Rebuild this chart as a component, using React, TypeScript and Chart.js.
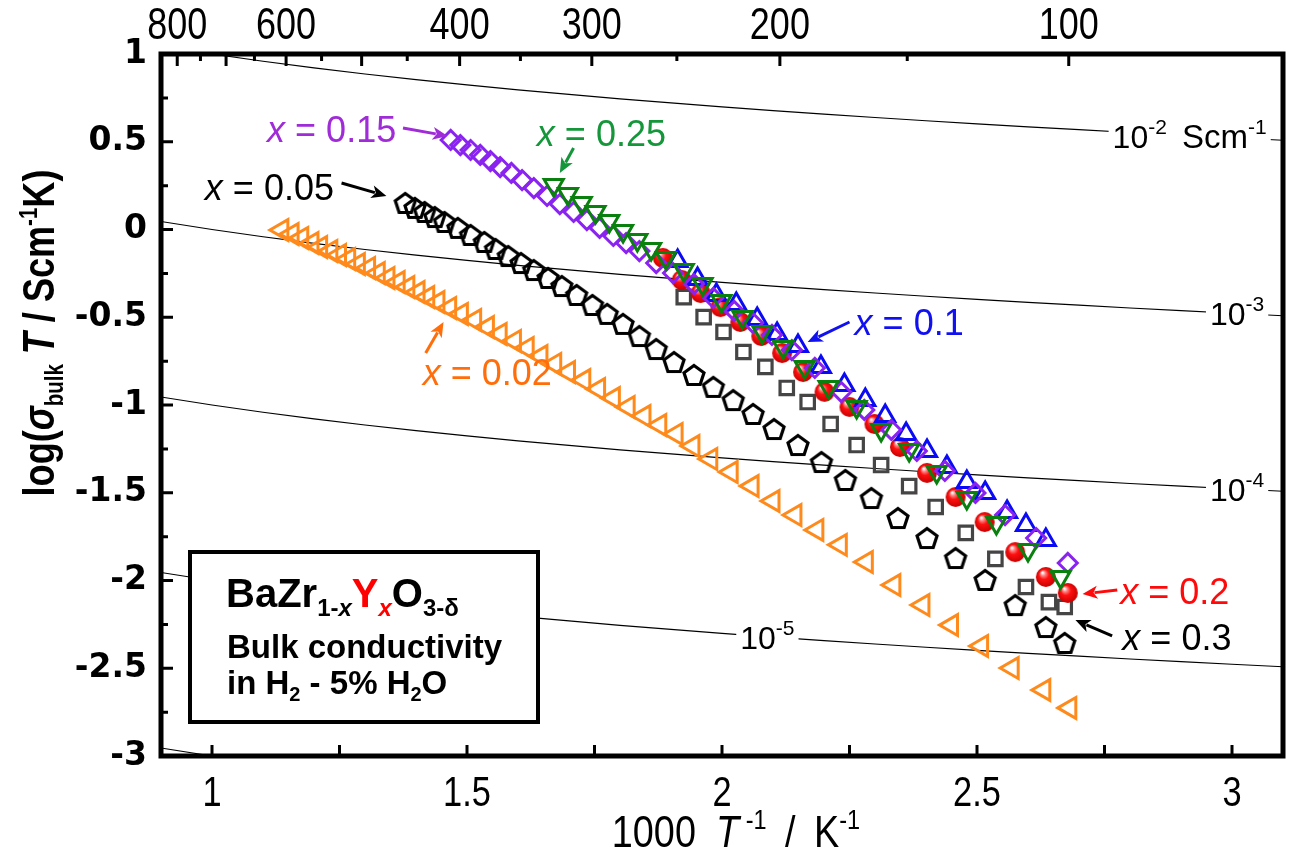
import React, { useEffect, useRef } from "react";
import { Chart, registerables } from "chart.js";

Chart.register(...registerables);

const W = 1298;
const H = 855;

// ---- axes ----
const X_MIN = 0.9;
const X_MAX = 3.1;
const Y_MIN = -3;
const Y_MAX = 1;
const X_TICKS = [1, 1.5, 2, 2.5, 3];
const X_MINOR = [1, 1.25, 1.5, 1.75, 2, 2.25, 2.5, 2.75, 3];
const Y_TICKS = [-3, -2.5, -2, -1.5, -1, -0.5, 0, 0.5, 1];
const Y_MINOR = [-2.75, -2.25, -1.75, -1.25, -0.75, -0.25, 0.25, 0.75];
const TOP_LABELS_C = [800, 600, 400, 300, 200, 100];
const TOP_MAJOR_C = [800, 700, 600, 500, 400, 300, 200, 100];
const TOP_MINOR_C = [750, 650, 550, 450, 350, 250, 150];

// ---- iso-conductivity lines (sigma = 10^exp S/cm) ----
const ISO_EXPONENTS = [-2, -3, -4, -5, -6];
const ISO_X = [0.9, 1.0, 1.1, 1.2, 1.3, 1.4, 1.5, 1.6, 1.7, 1.8, 1.9, 2.0, 2.1, 2.2, 2.3, 2.4, 2.5, 2.6, 2.7, 2.8, 2.9, 3.0, 3.1];

// ---- series: x = 0.02 (orange left triangles) ----
const X_002 = [1.137, 1.157, 1.176, 1.196, 1.213, 1.233, 1.250, 1.268, 1.287, 1.307, 1.326, 1.345, 1.365, 1.384, 1.404, 1.423, 1.443, 1.466, 1.489, 1.515, 1.540, 1.565, 1.593, 1.618, 1.645, 1.672, 1.699, 1.729, 1.758, 1.787, 1.816, 1.847, 1.878, 1.910, 1.943, 1.978, 2.018, 2.059, 2.100, 2.143, 2.186, 2.232, 2.283, 2.337, 2.394, 2.450, 2.509, 2.569, 2.631, 2.682];
const Y_002 = [-0.003, -0.026, -0.048, -0.077, -0.100, -0.123, -0.145, -0.168, -0.197, -0.219, -0.248, -0.276, -0.299, -0.328, -0.356, -0.385, -0.413, -0.447, -0.481, -0.516, -0.556, -0.595, -0.635, -0.675, -0.721, -0.766, -0.812, -0.858, -0.909, -0.960, -1.011, -1.063, -1.114, -1.165, -1.234, -1.308, -1.382, -1.462, -1.547, -1.627, -1.712, -1.797, -1.895, -2.026, -2.140, -2.254, -2.373, -2.499, -2.624, -2.726];

// ---- x = 0.05 (black pentagons) ----
const X_005 = [1.379, 1.398, 1.417, 1.437, 1.456, 1.482, 1.507, 1.534, 1.556, 1.581, 1.606, 1.631, 1.659, 1.686, 1.715, 1.746, 1.775, 1.806, 1.838, 1.871, 1.906, 1.945, 1.983, 2.022, 2.061, 2.102, 2.149, 2.195, 2.242, 2.293, 2.345, 2.402, 2.458, 2.516, 2.575, 2.635, 2.672];
const Y_005 = [0.151, 0.123, 0.100, 0.071, 0.043, 0.009, -0.031, -0.071, -0.111, -0.151, -0.191, -0.231, -0.276, -0.322, -0.373, -0.430, -0.481, -0.538, -0.607, -0.681, -0.755, -0.829, -0.897, -0.972, -1.051, -1.137, -1.228, -1.325, -1.427, -1.530, -1.644, -1.758, -1.872, -1.997, -2.140, -2.265, -2.356];

// ---- x = 0.1 (blue up triangles) ----
const X_010 = [1.913, 1.952, 1.989, 2.028, 2.069, 2.108, 2.149, 2.194, 2.240, 2.281, 2.320, 2.361, 2.402, 2.441, 2.480, 2.516, 2.559, 2.596, 2.635];
const Y_010 = [-0.179, -0.282, -0.373, -0.425, -0.510, -0.595, -0.664, -0.783, -0.886, -0.972, -1.063, -1.165, -1.262, -1.353, -1.439, -1.501, -1.610, -1.684, -1.769];

// ---- x = 0.15 (violet diamonds) ----
const X_015 = [1.468, 1.487, 1.507, 1.526, 1.546, 1.565, 1.587, 1.608, 1.631, 1.657, 1.682, 1.709, 1.735, 1.760, 1.787, 1.812, 1.838, 1.871, 1.904, 1.945, 1.983, 2.024, 2.061, 2.098, 2.137, 2.182, 2.234, 2.279, 2.332, 2.382, 2.437, 2.497, 2.555, 2.616, 2.678];
const Y_015 = [0.510, 0.481, 0.453, 0.425, 0.390, 0.356, 0.322, 0.282, 0.236, 0.191, 0.145, 0.100, 0.054, 0.009, -0.037, -0.077, -0.123, -0.191, -0.248, -0.311, -0.390, -0.464, -0.533, -0.601, -0.687, -0.789, -0.926, -1.028, -1.142, -1.262, -1.376, -1.501, -1.627, -1.758, -1.900];

// ---- x = 0.2 (red spheres) ----
const X_020 = [1.884, 1.921, 1.958, 1.997, 2.036, 2.077, 2.118, 2.159, 2.201, 2.250, 2.299, 2.349, 2.402, 2.458, 2.515, 2.575, 2.635, 2.678];
const Y_020 = [-0.162, -0.288, -0.362, -0.442, -0.527, -0.607, -0.704, -0.812, -0.925, -1.011, -1.108, -1.239, -1.387, -1.524, -1.667, -1.838, -1.980, -2.071];

// ---- x = 0.25 (green down triangles) ----
const X_025 = [1.670, 1.698, 1.725, 1.752, 1.779, 1.806, 1.834, 1.861, 1.890, 1.925, 1.962, 1.999, 2.040, 2.079, 2.120, 2.162, 2.209, 2.264, 2.312, 2.367, 2.421, 2.480, 2.538, 2.600, 2.664];
const Y_025 = [0.254, 0.202, 0.151, 0.100, 0.048, -0.009, -0.060, -0.111, -0.162, -0.231, -0.311, -0.407, -0.499, -0.584, -0.670, -0.783, -0.897, -1.011, -1.142, -1.256, -1.382, -1.530, -1.672, -1.826, -1.980];

// ---- x = 0.3 (grey squares) ----
const X_030 = [1.925, 1.964, 2.003, 2.042, 2.085, 2.127, 2.168, 2.213, 2.264, 2.312, 2.367, 2.419, 2.478, 2.536, 2.596, 2.641, 2.672];
const Y_030 = [-0.385, -0.499, -0.584, -0.698, -0.783, -0.903, -0.983, -1.108, -1.228, -1.342, -1.462, -1.581, -1.729, -1.877, -2.037, -2.123, -2.151];

const pts = (xs: number[], ys: number[]) => xs.map((x, i) => ({ x, y: ys[i] }));

const SANS = '"Liberation Sans", Arial, sans-serif';
const YTICK = '"DejaVu Sans", sans-serif';
const NARROW_SX = 0.8;

type Seg = { t: string; f: string; c?: string; dy?: number; gap?: number };

function segWidth(ctx: CanvasRenderingContext2D, segs: Seg[]) {
  let total = 0;
  for (const s of segs) {
    ctx.font = s.f;
    total += ctx.measureText(s.t).width + (s.gap || 0);
  }
  return total;
}

function drawRich(
  ctx: CanvasRenderingContext2D,
  segs: Seg[],
  x: number,
  y: number,
  align: "left" | "center" | "right" = "left",
  sx = 1
) {
  const total = segWidth(ctx, segs) * sx;
  const x0 = align === "center" ? x - total / 2 : align === "right" ? x - total : x;
  ctx.save();
  ctx.translate(x0, y);
  ctx.scale(sx, 1);
  ctx.textAlign = "left";
  ctx.textBaseline = "alphabetic";
  let cx = 0;
  for (const s of segs) {
    ctx.font = s.f;
    ctx.fillStyle = s.c || "#000";
    ctx.fillText(s.t, cx, s.dy || 0);
    cx += ctx.measureText(s.t).width + (s.gap || 0);
  }
  ctx.restore();
  return total;
}

function makePentagon(): HTMLCanvasElement {
  const c = document.createElement("canvas");
  c.width = 30;
  c.height = 30;
  const g = c.getContext("2d")!;
  const r = 10.5;
  g.beginPath();
  for (let i = 0; i < 5; i++) {
    const a = -Math.PI / 2 + (i * 2 * Math.PI) / 5;
    const px = 15 + r * Math.cos(a);
    const py = 16 + r * Math.sin(a);
    if (i === 0) g.moveTo(px, py);
    else g.lineTo(px, py);
  }
  g.closePath();
  g.lineWidth = 3.2;
  g.lineJoin = "miter";
  g.strokeStyle = "#000";
  g.stroke();
  return c;
}

function makeSphere(): HTMLCanvasElement {
  const c = document.createElement("canvas");
  c.width = 24;
  c.height = 24;
  const g = c.getContext("2d")!;
  const grad = g.createRadialGradient(8.5, 7.5, 0.5, 12, 12, 10.5);
  grad.addColorStop(0, "#ffffff");
  grad.addColorStop(0.2, "#ff8080");
  grad.addColorStop(0.45, "#ff1010");
  grad.addColorStop(1, "#c40000");
  g.beginPath();
  g.arc(12, 12, 10, 0, Math.PI * 2);
  g.fillStyle = grad;
  g.fill();
  return c;
}

// annotation label specs (data coordinates)
const SERIES_LABELS = [
  { text: "0.15", color: "#A02CD8", x: 1.108, y: 0.499, ax0: 1.3745, ay0: 0.578, ax1: 1.462, ay1: 0.533 },
  { text: "0.25", color: "#16963A", x: 1.637, y: 0.476, ax0: 1.709, ay0: 0.464, ax1: 1.682, ay1: 0.322 },
  { text: "0.05", color: "#000000", x: 0.986, y: 0.168, ax0: 1.254, ay0: 0.265, ax1: 1.342, ay1: 0.191 },
  { text: "0.02", color: "#FF6E0A", x: 1.413, y: -0.886, ax0: 1.419, ay0: -0.704, ax1: 1.454, ay1: -0.527 },
  { text: "0.1", color: "#1010F0", x: 2.26, y: -0.601, ax0: 2.25, ay0: -0.527, ax1: 2.168, ay1: -0.641 },
  { text: "0.2", color: "#FF0A0A", x: 2.781, y: -2.134, ax0: 2.775, ay0: -2.054, ax1: 2.707, ay1: -2.077 },
  { text: "0.3", color: "#000000", x: 2.785, y: -2.396, ax0: 2.765, ay0: -2.316, ax1: 2.693, ay1: -2.225 },
];

const ISO_LABELS = [
  { exp: -2, x: 2.917, unit: true },
  { exp: -3, x: 3.01, unit: false },
  { exp: -4, x: 3.01, unit: false },
  { exp: -5, x: 2.089, unit: false },
];

function arrow(ctx: CanvasRenderingContext2D, x0: number, y0: number, x1: number, y1: number, color: string) {
  const ang = Math.atan2(y1 - y0, x1 - x0);
  const hl = 15;
  const hw = 6.5;
  const bx = x1 - hl * Math.cos(ang);
  const by = y1 - hl * Math.sin(ang);
  ctx.strokeStyle = color;
  ctx.fillStyle = color;
  ctx.lineWidth = 3;
  ctx.beginPath();
  ctx.moveTo(x0, y0);
  ctx.lineTo(bx + 3 * Math.cos(ang), by + 3 * Math.sin(ang));
  ctx.stroke();
  ctx.beginPath();
  ctx.moveTo(x1, y1);
  ctx.lineTo(bx - hw * Math.sin(ang), by + hw * Math.cos(ang));
  ctx.lineTo(bx + 4 * Math.cos(ang), by + 4 * Math.sin(ang));
  ctx.lineTo(bx + hw * Math.sin(ang), by - hw * Math.cos(ang));
  ctx.closePath();
  ctx.fill();
}

const decor = {
  id: "decor",
  afterDatasetsDraw(chart: any) {
    const { ctx, chartArea: a, scales } = chart;
    const xs = scales.x;
    const ys = scales.y;
    const px = (v: number) => xs.getPixelForValue(v);
    const py = (v: number) => ys.getPixelForValue(v);
    ctx.save();

    // iso-line labels
    for (const L of ISO_LABELS) {
      const ly = py(L.exp + 3 - Math.log10(L.x));
      const lx = px(L.x);
      const segs: Seg[] = [
        { t: "10", f: `32px ${SANS}` },
        { t: "-" + String(-L.exp), f: `21px ${SANS}`, dy: -14 },
      ];
      if (L.unit) {
        segs.push({ t: " Scm", f: `33px ${SANS}`, gap: 0 });
        segs.push({ t: "-1", f: `21px ${SANS}`, dy: -14 });
        segs[1].gap = 6;
      }
      const w = segWidth(ctx, segs);
      ctx.fillStyle = "#fff";
      ctx.fillRect(lx - w / 2 - 4, ly - 20, w + 8, 34);
      drawRich(ctx, segs, lx, ly + 12, "center");
    }

    // series labels + arrows
    for (const L of SERIES_LABELS) {
      drawRich(
        ctx,
        [
          { t: "x", f: `italic 36px ${SANS}`, c: L.color },
          { t: " = " + L.text, f: `36px ${SANS}`, c: L.color },
        ],
        px(L.x),
        py(L.y)
      );
      arrow(ctx, px(L.ax0), py(L.ay0), px(L.ax1), py(L.ay1), L.color);
    }

    // legend box
    ctx.fillStyle = "#fff";
    ctx.fillRect(190, 552, 348, 170);
    ctx.strokeStyle = "#000";
    ctx.lineWidth = 4;
    ctx.strokeRect(190, 552, 348, 170);
    const B = `bold 40px ${SANS}`;
    const BS = `bold 24px ${SANS}`;
    const BSI = `italic bold 24px ${SANS}`;
    drawRich(
      ctx,
      [
        { t: "BaZr", f: B },
        { t: "1-", f: BS, dy: 9 },
        { t: "x", f: BSI, dy: 9 },
        { t: "Y", f: B, c: "#FF0000" },
        { t: "x", f: BSI, c: "#FF0000", dy: 9 },
        { t: "O", f: B },
        { t: "3-\u03B4", f: BS, dy: 9 },
      ],
      226,
      607
    );
    drawRich(ctx, [{ t: "Bulk conductivity", f: `bold 33px ${SANS}` }], 227, 658);
    drawRich(
      ctx,
      [
        { t: "in H", f: `bold 33px ${SANS}` },
        { t: "2", f: `bold 20px ${SANS}`, dy: 7 },
        { t: " - 5% H", f: `bold 33px ${SANS}` },
        { t: "2", f: `bold 20px ${SANS}`, dy: 7 },
        { t: "O", f: `bold 33px ${SANS}` },
      ],
      227,
      694
    );

    // frame
    ctx.strokeStyle = "#000";
    ctx.lineWidth = 5;
    ctx.strokeRect(a.left, a.top, a.right - a.left, a.bottom - a.top);

    // inward ticks
    ctx.lineWidth = 3;
    ctx.beginPath();
    for (const v of X_MINOR) {
      const x = px(v);
      ctx.moveTo(x, a.bottom);
      ctx.lineTo(x, a.bottom - 11);
    }
    for (const v of Y_TICKS) {
      const y = py(v);
      ctx.moveTo(a.left, y);
      ctx.lineTo(a.left + 12, y);
    }
    for (const v of Y_MINOR) {
      const y = py(v);
      ctx.moveTo(a.left, y);
      ctx.lineTo(a.left + 7, y);
    }
    for (const t of TOP_MAJOR_C) {
      const x = px(1000 / (t + 273.15));
      ctx.moveTo(x, a.top);
      ctx.lineTo(x, a.top + 12);
    }
    for (const t of TOP_MINOR_C) {
      const x = px(1000 / (t + 273.15));
      ctx.moveTo(x, a.top);
      ctx.lineTo(x, a.top + 7);
    }
    ctx.stroke();

    // bottom tick labels (condensed)
    for (const v of X_TICKS) {
      drawRich(ctx, [{ t: String(v), f: `43px ${SANS}` }], px(v), 806, "center", NARROW_SX);
    }
    // top temperature labels (condensed)
    for (const t of TOP_LABELS_C) {
      drawRich(ctx, [{ t: String(t), f: `45px ${SANS}` }], px(1000 / (t + 273.15)), 39, "center", NARROW_SX);
    }

    // axis titles
    drawRich(
      ctx,
      [
        { t: "1000", f: `45px ${SANS}`, gap: 24 },
        { t: "T", f: `italic 45px ${SANS}` },
        { t: " -1", f: `28px ${SANS}`, dy: -18, gap: 22 },
        { t: "/", f: `45px ${SANS}`, gap: 22 },
        { t: "K", f: `45px ${SANS}` },
        { t: "-1", f: `28px ${SANS}`, dy: -18 },
      ],
      736,
      847,
      "center",
      0.84
    );

    ctx.save();
    ctx.translate(54, 333);
    ctx.rotate(-Math.PI / 2);
    drawRich(
      ctx,
      [
        { t: "log(", f: `bold 44px ${SANS}` },
        { t: "\u03C3", f: `italic bold 44px ${SANS}` },
        { t: "bulk", f: `bold 25px ${SANS}`, dy: 9 },
        { t: " T", f: `italic bold 44px ${SANS}` },
        { t: " / Scm", f: `bold 44px ${SANS}` },
        { t: "-1", f: `bold 25px ${SANS}`, dy: -17 },
        { t: "K)", f: `bold 44px ${SANS}` },
      ],
      0,
      0,
      "center",
      0.82
    );
    ctx.restore();

    ctx.restore();
  },
};

export default function App() {
  const ref = useRef<HTMLCanvasElement | null>(null);

  useEffect(() => {
    if (!ref.current) return;
    const pent = makePentagon();
    const sphere = makeSphere();

    const isoSets = ISO_EXPONENTS.map((e) => ({
      label: "iso" + e,
      data: ISO_X.map((x) => ({ x, y: e + 3 - Math.log10(x) })),
      showLine: true,
      pointRadius: 0,
      borderColor: "#000",
      borderWidth: 1.2,
      order: 20,
    }));

    const chart = new Chart(ref.current, {
      type: "scatter",
      data: {
        datasets: [
          ...isoSets,
          { label: "x = 0.25", data: pts(X_025, Y_025), pointStyle: "triangle", rotation: 180, pointRadius: 11, borderColor: "#0A800F", borderWidth: 3, backgroundColor: "rgba(0,0,0,0)", order: 1 },
          { label: "x = 0.15", data: pts(X_015, Y_015), pointStyle: "rectRot", pointRadius: 9.5, borderColor: "#8A22F0", borderWidth: 3, backgroundColor: "rgba(0,0,0,0)", order: 2 },
          { label: "x = 0.1", data: pts(X_010, Y_010), pointStyle: "triangle", pointRadius: 11, borderColor: "#0A0AF5", borderWidth: 3, backgroundColor: "rgba(0,0,0,0)", order: 3 },
          { label: "x = 0.2", data: pts(X_020, Y_020), pointStyle: sphere, pointRadius: 11, order: 4 },
          { label: "x = 0.3", data: pts(X_030, Y_030), pointStyle: "rect", pointRadius: 9.5, borderColor: "#454545", borderWidth: 3.2, backgroundColor: "rgba(0,0,0,0)", order: 5 },
          { label: "x = 0.05", data: pts(X_005, Y_005), pointStyle: pent, pointRadius: 11, order: 6 },
          { label: "x = 0.02", data: pts(X_002, Y_002), pointStyle: "triangle", rotation: -90, pointRadius: 12, borderColor: "#FF8A1C", borderWidth: 3, backgroundColor: "rgba(0,0,0,0)", order: 7 },
        ],
      },
      options: {
        animation: false,
        responsive: false,
        devicePixelRatio: 1,
        layout: { padding: { left: 0, right: 6, top: 0, bottom: 0 } },
        plugins: { legend: { display: false }, tooltip: { enabled: false } },
        scales: {
          x: {
            type: "linear",
            position: "bottom",
            min: X_MIN,
            max: X_MAX,
            afterFit: (s: any) => {
              s.height = H - 756;
            },
            grid: { display: false, drawTicks: false },
            border: { display: false },
            ticks: { display: false },
          },
          xTop: {
            type: "linear",
            position: "top",
            min: X_MIN,
            max: X_MAX,
            afterFit: (s: any) => {
              s.height = 54;
            },
            grid: { display: false, drawTicks: false },
            border: { display: false },
            ticks: { display: false },
          },
          y: {
            type: "linear",
            min: Y_MIN,
            max: Y_MAX,
            afterBuildTicks: (s: any) => {
              s.ticks = Y_TICKS.map((v) => ({ value: v }));
            },
            afterFit: (s: any) => {
              s.width = 161;
            },
            grid: { display: false, drawTicks: false },
            border: { display: false },
            ticks: {
              autoSkip: false,
              padding: 14,
              color: "#000",
              font: { family: YTICK, size: 33, weight: "bold" },
              callback: (v: any) => String(v),
            },
          },
        },
      },
      plugins: [decor],
    } as any);

    return () => chart.destroy();
  }, []);

  return (
    <div style={{ position: "absolute", left: 0, top: 0, width: W, height: H, background: "#fff" }}>
      <canvas ref={ref} width={W} height={H} style={{ display: "block" }} />
    </div>
  );
}
